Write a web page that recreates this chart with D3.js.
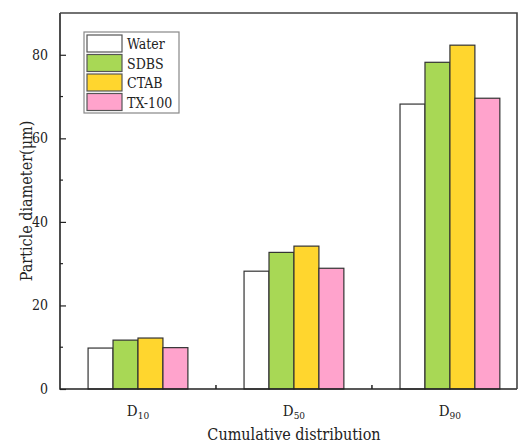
<!DOCTYPE html>
<html>
<head>
<meta charset="utf-8">
<script src="https://cdn.jsdelivr.net/npm/d3@7"></script>
<style>
  body { margin: 0; background: #fff; }
</style>
</head>
<body>
<div id="chart"></div>
<script>
// data
const categories = ["10", "50", "90"];
const seriesNames = ["Water", "SDBS", "CTAB", "TX-100"];
const seriesColors = ["#ffffff", "#a8d855", "#ffd62e", "#ffa3cc"];
const water = [9.8, 28.2, 68.2];
const sdbs = [11.7, 32.7, 78.2];
const ctab = [12.2, 34.2, 82.3];
const tx100 = [9.9, 28.9, 69.6];
const yTicks = [0, 20, 40, 60, 80];
const yMinorTicks = [10, 30, 50, 70];

const seriesValues = [water, sdbs, ctab, tx100];

const FONT = "'DejaVu Serif Condensed', 'DejaVu Serif', serif";
const W = 518, H = 445;
const margin = {top: 13, right: 1, bottom: 56, left: 60};

const svg = d3.select("#chart").append("svg")
  .attr("width", W)
  .attr("height", H)
  .attr("font-family", FONT)
  .style("font-stretch", "condensed");

// x positions: categories at 1,2,3
const x = d3.scaleLinear()
  .domain([0.5, 3.43])
  .range([margin.left, W - margin.right]);

const y = d3.scaleLinear()
  .domain([0, 90])
  .range([H - margin.bottom, margin.top]);

const barW = x(1.16) - x(1);

// bars
seriesValues.forEach(function(vals, j){
  svg.append("g")
    .selectAll("rect")
    .data(vals)
    .join("rect")
    .attr("x", (d, i) => x(i + 1) + (j - 2) * barW)
    .attr("y", d => y(d))
    .attr("width", barW)
    .attr("height", d => y(0) - y(d))
    .attr("fill", seriesColors[j])
    .attr("stroke", "#333")
    .attr("stroke-width", 1.2);
});

// left axis, ticks inward
svg.append("g")
  .attr("transform", `translate(${margin.left},0)`)
  .call(d3.axisLeft(y).tickValues(yTicks).tickSize(-6).tickPadding(12).tickFormat(d3.format("d")))
  .attr("font-family", FONT)
  .attr("font-size", 14)
  .call(g => g.select(".domain").remove())
  .call(g => g.selectAll("line").attr("stroke", "#222").attr("stroke-width", 1.2))
  .call(g => g.selectAll("text").attr("fill", "#222"));

svg.append("g")
  .attr("transform", `translate(${margin.left},0)`)
  .selectAll("line")
  .data(yMinorTicks)
  .join("line")
  .attr("x1", 0).attr("x2", 3)
  .attr("y1", d => y(d)).attr("y2", d => y(d))
  .attr("stroke", "#222").attr("stroke-width", 1.2);

// bottom axis ticks between categories
svg.append("g")
  .selectAll("line")
  .data([1.5, 2.5])
  .join("line")
  .attr("x1", d => x(d)).attr("x2", d => x(d))
  .attr("y1", y(0)).attr("y2", y(0) - 4)
  .attr("stroke", "#222").attr("stroke-width", 1.5);

// frame
svg.append("path")
  .attr("d", `M${x(0.5)},${y(90)} L${x(0.5)},${y(0)} L${x(3.43)},${y(0)}`)
  .attr("fill", "none").attr("stroke", "#222").attr("stroke-width", 1.6);
svg.append("path")
  .attr("d", `M${x(0.5)},${y(90)} L${x(3.43)},${y(90)} L${x(3.43)},${y(0)}`)
  .attr("fill", "none").attr("stroke", "#444").attr("stroke-width", 1.6);

// category labels D with subscript
const catLabels = svg.append("g")
  .selectAll("text")
  .data(categories)
  .join("text")
  .attr("x", (d, i) => x(i + 1))
  .attr("y", 416)
  .attr("text-anchor", "middle")
  .attr("fill", "#222")
  .attr("font-size", 15);
catLabels.append("tspan").text("D");
catLabels.append("tspan")
  .attr("dy", 3)
  .attr("font-size", 10)
  .text(d => d);

// axis titles
svg.append("text")
  .attr("x", 294)
  .attr("y", 440)
  .attr("text-anchor", "middle")
  .attr("fill", "#222")
  .attr("font-size", 16)
  .text("Cumulative distribution");

svg.append("text")
  .attr("transform", `translate(32,${(y(0) + y(90)) / 2}) rotate(-90)`)
  .attr("text-anchor", "middle")
  .attr("fill", "#222")
  .attr("font-size", 16)
  .text("Particle diameter(μm)");

// legend
const legend = svg.append("g").attr("transform", "translate(84,32)");
legend.append("rect")
  .attr("x", 0).attr("y", 0)
  .attr("width", 95).attr("height", 81)
  .attr("fill", "#fff").attr("stroke", "#888").attr("stroke-width", 1.2);
const rows = legend.selectAll("g.row")
  .data(seriesNames)
  .join("g")
  .attr("class", "row")
  .attr("transform", (d, i) => `translate(3,${3 + i * 19.5})`);
rows.append("rect")
  .attr("width", 35).attr("height", 17)
  .attr("fill", (d, i) => seriesColors[i])
  .attr("stroke", "#555").attr("stroke-width", 1.2);
rows.append("text")
  .attr("x", 40).attr("y", 14)
  .attr("fill", "#222")
  .attr("font-size", 14)
  .text(d => d);
</script>
</body>
</html>
